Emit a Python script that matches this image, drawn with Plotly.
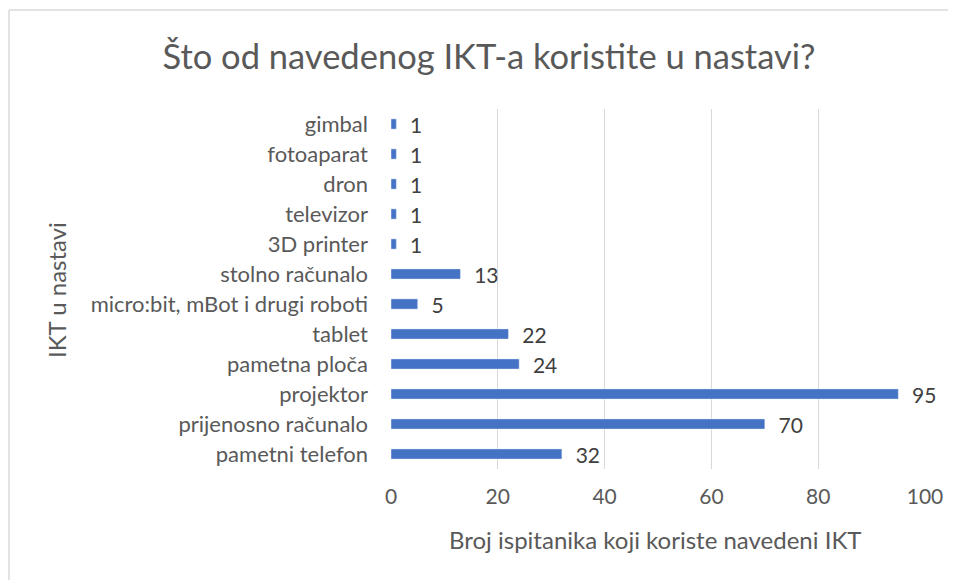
import plotly.graph_objects as go

# categories from bottom to top, as drawn
kategorije = ['pametni telefon', 'prijenosno računalo', 'projektor', 'pametna ploča',
              'tablet', 'micro:bit, mBot i drugi roboti', 'stolno računalo',
              '3D printer', 'televizor', 'dron', 'fotoaparat', 'gimbal']
broj = [32, 70, 95, 24, 22, 5, 13, 1, 1, 1, 1, 1]
x_ticks = [0, 20, 40, 60, 80, 100]

naslov = 'Što od navedenog IKT-a koristite u nastavi?'
x_naslov = 'Broj ispitanika koji koriste navedeni IKT'
y_naslov = 'IKT u nastavi'

font = 'Lato, Open Sans, sans-serif'
siva = '#595959'

fig = go.Figure(go.Bar(
    y=kategorije, x=broj, orientation='h',
    marker=dict(color='#4472C4'),
    text=broj, texttemplate='  %{x}', textposition='outside',
    textfont=dict(size=21, color='#404040', family=font),
    cliponaxis=False, constraintext='none',
))

# page body adds an 8px offset
fig.update_layout(
    width=940, height=572,
    margin=dict(l=383, r=23, t=101, b=111, autoexpand=False),
    paper_bgcolor='white', plot_bgcolor='white',
    bargap=0.66,
    showlegend=False,
    font=dict(family=font, color=siva),
    title=dict(text=naslov, x=481 / 940, xanchor='center', y=1 - 49 / 572, yanchor='middle',
               font=dict(size=34.5, color=siva, family=font)),
    xaxis=dict(range=[0, 100], tickvals=x_ticks, showgrid=True, gridcolor='#d9d9d9',
               gridwidth=1.3, zeroline=False, showline=False, ticks='', automargin=False,
               tickfont=dict(size=21, color=siva), ticklabelstandoff=13),
    yaxis=dict(showgrid=False, showline=False, ticks='', automargin=False,
               tickfont=dict(size=22, color=siva), ticklabelstandoff=22),
    annotations=[
        dict(text=x_naslov, xref='paper', yref='paper', x=0.495, y=(469 - 539) / 360,
             xanchor='center', yanchor='middle', showarrow=False,
             font=dict(size=24, color=siva)),
        dict(text=y_naslov, xref='paper', yref='paper', x=(56 - 391) / 534, y=(469 - 290) / 360,
             xanchor='center', yanchor='middle', textangle=-90, showarrow=False,
             font=dict(size=24, color=siva)),
    ],
    shapes=[
        dict(type='line', xref='paper', yref='paper',
             x0=(9 - 391) / 534, x1=1.2, y0=(469 - 10) / 360, y1=(469 - 10) / 360,
             line=dict(color='#d9d9d9', width=1.5), layer='below'),
        dict(type='line', xref='paper', yref='paper',
             x0=(9 - 391) / 534, x1=(9 - 391) / 534, y0=(469 - 10) / 360, y1=-0.6,
             line=dict(color='#d9d9d9', width=1.5), layer='below'),
    ],
)

fig.write_html('out.html')
